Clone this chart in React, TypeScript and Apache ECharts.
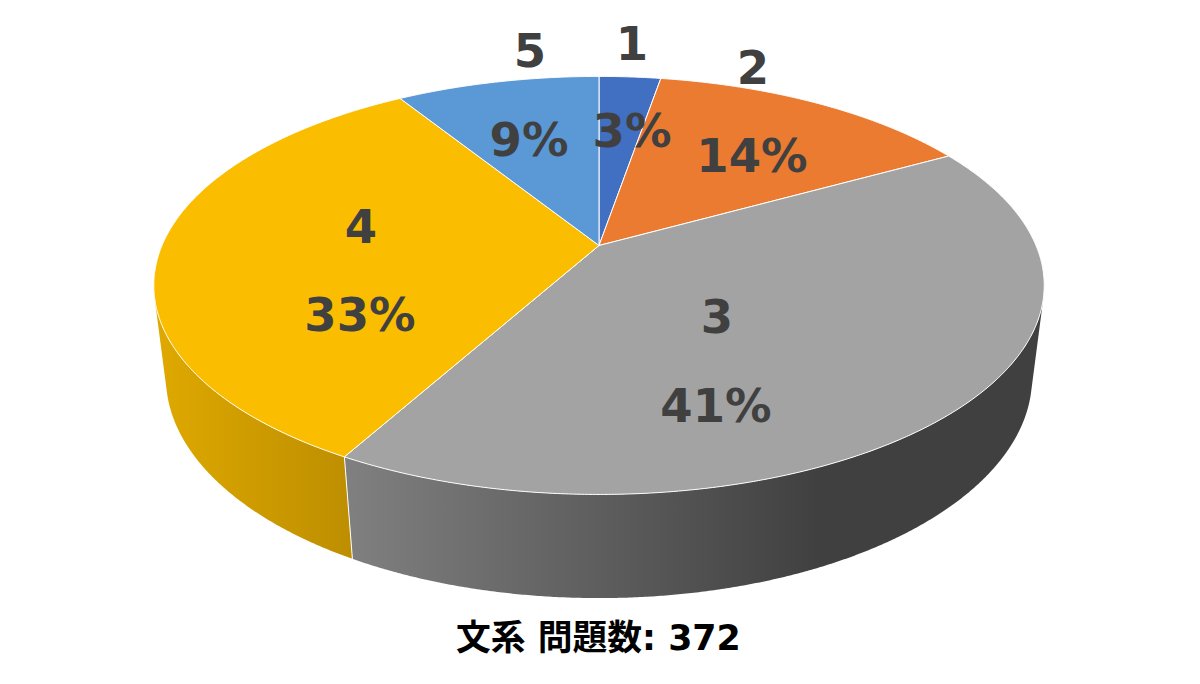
import React, { useEffect, useRef } from "react";
import * as echarts from "echarts";

const categories = ["1", "2", "3", "4", "5"];
const questionCounts = [10, 53, 153, 123, 33];
const percentLabels = ["3%", "14%", "41%", "33%", "9%"];
const chartTitle = "文系 問題数: 372";

const topColors = ["#416fc1", "#eb7b30", "#a3a3a3", "#fbbd00", "#5a98d6"];
const sideStart = ["#4472c4", "#ed7d31", "#808080", "#dfa900", "#5b9bd5"];
const sideEnd = ["#2f5597", "#a5561f", "#404040", "#bd8e00", "#3f6f9c"];
const sideFadeStop = [1, 1, 0.68, 1, 1];

// label placement: [name x, name y, percent x, percent y]
const labelSpots = [
  [632, 44, 632, 131],
  [753, 68, 752, 156],
  [717, 317, 716, 406],
  [361, 227, 360, 315],
  [530, 51, 529, 140],
];

// perspective projection of the pie disc
const AX = 437, BY = 154.5, CX = 599, CY = 245.5, K = -0.191, DEPTH = 100, DW = 0.027;
const project = (angle: number, r: number, lower: boolean): number[] => {
  const x = r * Math.sin(angle);
  const y = -r * Math.cos(angle);
  const w = 1 + K * y + (lower ? DW : 0);
  return [CX + (AX * x) / w, (CY + BY * y + (lower ? DEPTH : 0)) / w];
};

// true where the outer wall faces the viewer at this angle
const wallFacesViewer = (angle: number): boolean => {
  const d = 0.001;
  const a = project(angle, 1, false);
  const b = project(angle + d, 1, false);
  const c = project(angle, 1, true);
  return (b[0] - a[0]) * (c[1] - a[1]) - (b[1] - a[1]) * (c[0] - a[0]) < 0;
};

export default function App() {
  const ref = useRef<HTMLDivElement>(null);
  useEffect(() => {
    document.body.style.margin = "0";
    const chart = echarts.init(ref.current!, undefined, { renderer: "svg" });
    const total = questionCounts.reduce((a, b) => a + b, 0);
    const starts: number[] = [];
    questionCounts.reduce((acc, v) => {
      starts.push(acc);
      return acc + v;
    }, 0);
    const toAngle = (v: number) => (v / total) * Math.PI * 2;

    const sampleAngles = (a0: number, a1: number) => {
      const n = Math.max(2, Math.ceil((a1 - a0) / 0.005));
      const out: number[] = [];
      for (let i = 0; i <= n; i++) out.push(a0 + ((a1 - a0) * i) / n);
      return out;
    };

    const side = {
      type: "custom",
      coordinateSystem: "none",
      silent: true,
      z: 1,
      data: questionCounts.map((v, i) => [v, starts[i]]),
      renderItem: (params: any, api: any) => {
        const a0 = toAngle(api.value(1));
        const a1 = a0 + toAngle(api.value(0));
        const i = params.dataIndex;
        const angles = sampleAngles(a0, a1).filter(wallFacesViewer);
        if (angles.length < 2) return null;
        const upper = angles.map((a) => project(a, 1, false));
        const lower = angles.map((a) => project(a, 1, true)).reverse();
        return {
          type: "polygon",
          shape: { points: upper.concat(lower) },
          style: {
            fill: new echarts.graphic.LinearGradient(0, 0, 1, 0, [
              { offset: 0, color: sideStart[i] },
              { offset: sideFadeStop[i], color: sideEnd[i] },
              { offset: 1, color: sideEnd[i] },
            ]),
            lineWidth: 0,
          },
        };
      },
    };

    const seams = {
      type: "custom",
      coordinateSystem: "none",
      silent: true,
      z: 1.5,
      data: questionCounts.map((v, i) => [starts[i]]),
      renderItem: (_: any, api: any) => {
        const a = toAngle(api.value(0));
        if (!wallFacesViewer(a)) return null;
        const p = project(a, 1, false);
        const q = project(a, 1, true);
        return {
          type: "line",
          shape: { x1: p[0], y1: p[1], x2: q[0], y2: q[1] },
          style: { stroke: "#ffffff", lineWidth: 1 },
        };
      },
    };

    const top = {
      type: "custom",
      coordinateSystem: "none",
      silent: true,
      z: 2,
      data: questionCounts.map((v, i) => [v, starts[i]]),
      renderItem: (params: any, api: any) => {
        const a0 = toAngle(api.value(1));
        const a1 = a0 + toAngle(api.value(0));
        const i = params.dataIndex;
        const rim = sampleAngles(a0, a1).map((a) => project(a, 1, false));
        return {
          type: "polygon",
          shape: { points: [project(0, 0, false)].concat(rim) },
          style: { fill: topColors[i], stroke: "#ffffff", lineWidth: 1, lineJoin: "round" },
        };
      },
    };

    const textStyle = (text: string, x: number, y: number) => ({
      type: "text",
      x,
      y,
      z: 10,
      style: {
        text,
        fill: "#404040",
        font: 'bold 46.5px "DejaVu Sans"',
        align: "center",
        verticalAlign: "middle",
      },
    });

    chart.setOption({
      animation: false,
      backgroundColor: "#ffffff",
      title: {
        text: chartTitle,
        left: 451,
        top: 616,
        textStyle: {
          color: "#000000",
          fontSize: 34.8,
          fontWeight: "bold",
          fontFamily: '"DejaVu Sans", "Noto Sans CJK JP"',
        },
      },
      series: [side, seams, top],
      graphic: categories.flatMap((c, i) => [
        textStyle(c, labelSpots[i][0], labelSpots[i][1]),
        textStyle(percentLabels[i], labelSpots[i][2], labelSpots[i][3]),
      ]),
    });
    return () => chart.dispose();
  }, []);
  return <div ref={ref} style={{ width: 1200, height: 684 }} />;
}
